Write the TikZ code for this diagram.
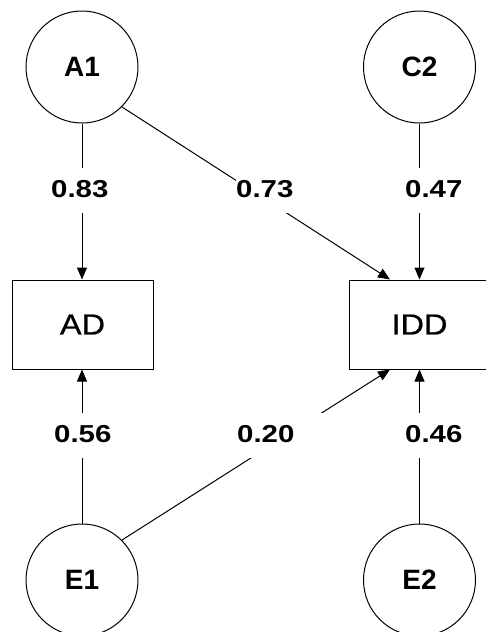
\documentclass[tikz,border=0pt]{standalone}
\usepackage{fontspec}
\setmainfont{Liberation Sans}
\newfontfamily\numfont[FakeStretch=1.2]{Liberation Sans}
\newfontfamily\boxfont[FakeStretch=1.12,FakeBold=0.6]{Liberation Sans}
\usetikzlibrary{arrows.meta}
\begin{document}
\begin{tikzpicture}[x=1pt,y=-1pt,
  latent/.style={circle,draw,line width=1pt,minimum size=112pt,inner sep=0pt,
    font=\fontsize{28}{30}\selectfont\bfseries},
  observed/.style={rectangle,draw,line width=1pt,minimum width=141pt,minimum height=89pt,
    inner sep=0pt,font=\boxfont\fontsize{29}{31}\selectfont},
  conn/.style={line width=1pt,-{Triangle[length=12pt,width=10pt]}},
  coef/.style={fill=white,anchor=west,inner sep=0pt,text width=90pt,align=left,
    minimum height=45pt,font=\numfont\bfseries\fontsize{24.5}{26}\selectfont}]
\clip (0,0) rectangle (486,632);
\fill[white] (0,0) rectangle (486,632);
% nodes
\node[latent] (A1) at (82,67) {A1};
\node[latent] (C2) at (419.5,67) {C2};
\node[observed] (AD) at (82.5,324.5) {AD};
\node[observed] (IDD) at (419.5,324.5) {IDD};
\node[latent] (E1) at (82,580) {E1};
\node[latent] (E2) at (419.5,580) {E2};
% connectors
\draw[conn] (A1) -- (A1 |- AD.north);
\draw[conn] (A1.south east) -- ([xshift=-29.5pt]IDD.north);
\draw[conn] (C2) -- (IDD);
\draw[conn] (E1) -- (E1 |- AD.south);
\draw[conn] (E1.north east) -- ([xshift=-29.5pt]IDD.south);
\draw[conn] (E2) -- (IDD);
% coefficients
\node[coef] (l83) at (51,190.5) {\raisebox{3pt}{0.83}};
\node[coef] (l73) at (236,190.5) {\raisebox{3pt}{0.73}};
\node[coef] (l47) at (405,190.5) {\raisebox{3pt}{0.47}};
\node[coef] (l56) at (54,435.5) {\raisebox{3pt}{0.56}};
\node[coef] (l20) at (237,435.5) {\raisebox{3pt}{0.20}};
\node[coef] (l46) at (405,435.5) {\raisebox{3pt}{0.46}};
\end{tikzpicture}
\end{document}
